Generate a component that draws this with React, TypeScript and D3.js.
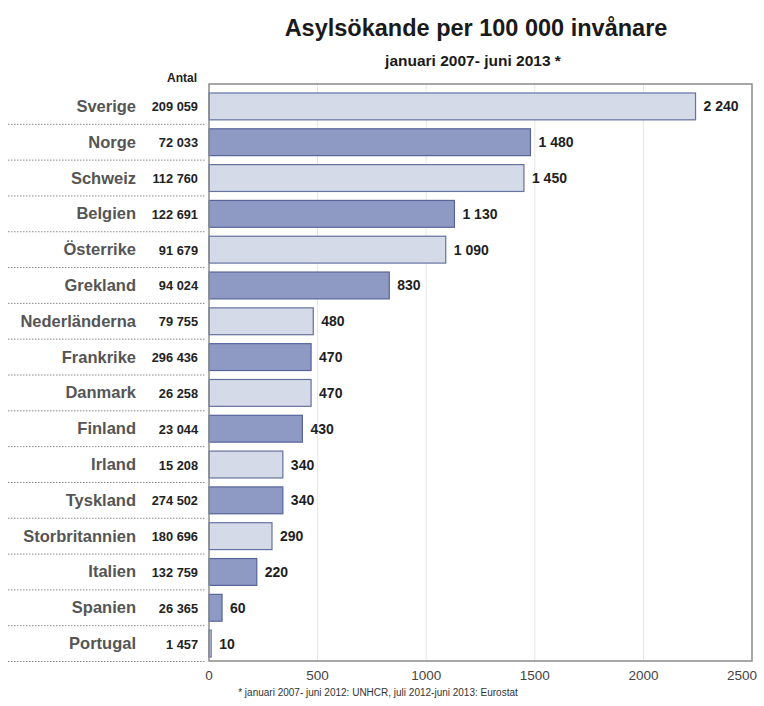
import React from "react";
import * as d3 from "d3";

const countries = [
  "Sverige", "Norge", "Schweiz", "Belgien", "Österrike", "Grekland",
  "Nederländerna", "Frankrike", "Danmark", "Finland", "Irland", "Tyskland",
  "Storbritannien", "Italien", "Spanien", "Portugal",
];
const perCapita = [2240, 1480, 1450, 1130, 1090, 830, 480, 470, 470, 430, 340, 340, 290, 220, 60, 10];
const antal = [
  209059, 72033, 112760, 122691, 91679, 94024, 79755, 296436, 26258, 23044,
  15208, 274502, 180696, 132759, 26365, 1457,
];
// shade of each bar as drawn in the original (l = light, d = dark)
const shades = ["l", "d", "l", "d", "l", "d", "l", "d", "l", "d", "l", "d", "l", "d", "d", "l"];
const xTicks = [0, 500, 1000, 1500, 2000, 2500];

const W = 764;
const H = 706;
const font = "'Liberation Sans', Arial, Helvetica, sans-serif";

const sv = d3.formatLocale({ decimal: ",", thousands: "\u00a0", grouping: [3], currency: ["", " kr"] });
const fmt = sv.format(",d");

const fills: Record<string, string> = { l: "#d5dae8", d: "#8f9ac4" };
const strokes: Record<string, string> = { l: "#64729e", d: "#56649a" };

export default function App() {
  const left = 209;
  const right = 752;
  const top = 84;
  const bottom = 661;

  const x = d3.scaleLinear().domain([0, 2500]).range([left, right]);
  const y = d3
    .scaleBand<string>()
    .domain(countries)
    .range([88.5, 661.5])
    .paddingInner(0.25)
    .paddingOuter(0.125);
  const step = y.step();
  const bw = y.bandwidth();

  const rows = countries.map((c, i) => ({ c, v: perCapita[i], n: antal[i], s: shades[i], i }));

  return (
    <svg width={W} height={H} style={{ position: "absolute", left: 0, top: 0, background: "#fff" }} fontFamily={font}>
      <text x={476} y={36} textAnchor="middle" fontSize={23.5} fontWeight="bold" fill="#1a1a1a">
        Asylsökande per 100 000 invånare
      </text>
      <text x={473} y={66} textAnchor="middle" fontSize={15.5} fontWeight="bold" fill="#1a1a1a">
        januari 2007- juni 2013 *
      </text>
      <text x={197} y={82} textAnchor="end" fontSize={12} fontWeight="bold" fill="#222">
        Antal
      </text>

      {/* grid */}
      {xTicks.slice(1, -1).map((t) => (
        <line key={t} x1={x(t)} x2={x(t)} y1={top} y2={bottom} stroke="#e6e6e6" strokeWidth={1} />
      ))}

      {/* bars */}
      {rows.map((d) => (
        <rect
          key={d.c}
          x={x(0)}
          y={y(d.c)}
          width={x(d.v) - x(0)}
          height={bw}
          fill={fills[d.s]}
          stroke={strokes[d.s]}
          strokeWidth={1.2}
        />
      ))}

      {/* frame */}
      <rect x={left} y={top} width={right - left} height={bottom - top} fill="none" stroke="#8a8a8a" strokeWidth={1.5} />

      {/* labels */}
      {rows.map((d) => {
        const cy = (y(d.c) as number) + bw / 2;
        return (
          <g key={"l" + d.c}>
            <text x={136} y={cy + 5.5} textAnchor="end" fontSize={16.5} fontWeight="bold" fill="#555">
              {d.c}
            </text>
            <text x={198} y={cy + 5} textAnchor="end" fontSize={12.8} fontWeight="bold" fill="#222">
              {fmt(d.n)}
            </text>
            <text x={x(d.v) + 8} y={cy + 5} fontSize={14} fontWeight="bold" fill="#1e1e1e">
              {fmt(d.v)}
            </text>
            <line
              x1={8}
              x2={205}
              y1={88.5 + step * (d.i + 1)}
              y2={88.5 + step * (d.i + 1)}
              stroke="#888"
              strokeWidth={1}
              strokeDasharray="1.5,1.5"
            />
          </g>
        );
      })}

      {/* x axis labels */}
      {xTicks.map((t) => (
        <text
          key={"t" + t}
          x={t === 2500 ? x(t) - 10 : x(t)}
          y={680}
          textAnchor="middle"
          fontSize={13.5}
          fill="#444"
        >
          {t}
        </text>
      ))}

      <text x={378} y={696} textAnchor="middle" fontSize={10} fill="#333">
        * januari 2007- juni 2012: UNHCR, juli 2012-juni 2013: Eurostat
      </text>
    </svg>
  );
}
